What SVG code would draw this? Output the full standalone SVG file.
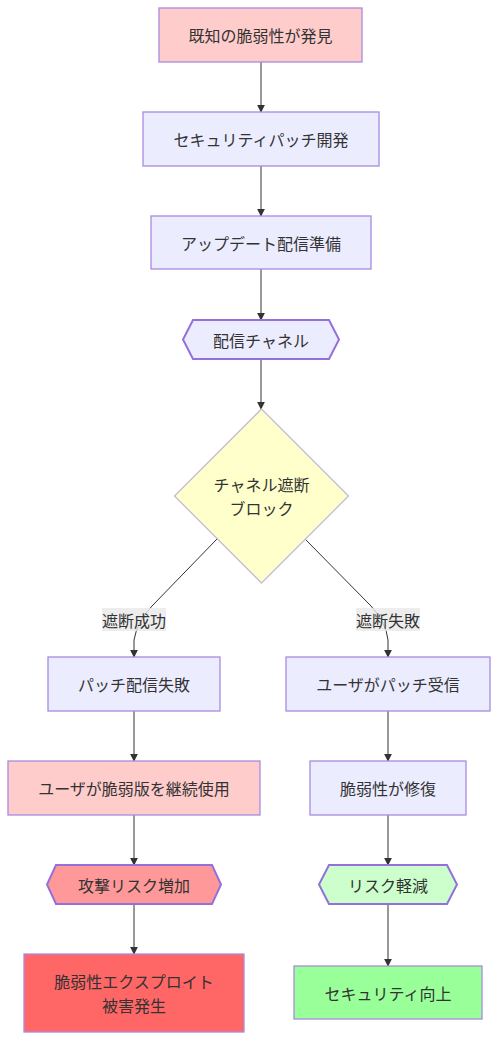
<svg xmlns="http://www.w3.org/2000/svg" width="498" height="1040" viewBox="0 0 498 1040">
<style>
text{font-family:"Noto Sans CJK JP","Noto Sans",sans-serif;font-size:16px;fill:#333;text-anchor:middle;dominant-baseline:central}
.n{stroke:#a98be0;stroke-width:1.3}
.h{stroke:#9370DB;stroke-width:2}
.e{fill:none;stroke:#333;stroke-width:1}
.lb{fill:#e8e8e8;opacity:0.8}
</style>
<defs>
<marker id="arr" viewBox="0 0 10 10" refX="9" refY="5" markerWidth="8" markerHeight="8" markerUnits="userSpaceOnUse" orient="auto">
<path d="M0,0 L10,5 L0,10 z" fill="#333"/>
</marker>
</defs>
<rect width="498" height="1040" fill="#fff"/>
<g id="connectors">
<path class="e" marker-end="url(#arr)" d="M261,62 L261,112"/>
<path class="e" marker-end="url(#arr)" d="M261,166 L261,216"/>
<path class="e" marker-end="url(#arr)" d="M261,269 L261,320"/>
<path class="e" marker-end="url(#arr)" d="M261,359 L261,409"/>
<path class="e" marker-end="url(#arr)" d="M217,539 L152,606 Q137,622 134,640 L134,657"/>
<path class="e" marker-end="url(#arr)" d="M305,539 L371,606 Q386,622 388,640 L388,657"/>
<path class="e" marker-end="url(#arr)" d="M134,711 L134,761"/>
<path class="e" marker-end="url(#arr)" d="M134,815 L134,865"/>
<path class="e" marker-end="url(#arr)" d="M134,904 L134,954"/>
<path class="e" marker-end="url(#arr)" d="M388,711 L388,761"/>
<path class="e" marker-end="url(#arr)" d="M388,815 L388,865"/>
<path class="e" marker-end="url(#arr)" d="M388,904 L388,966"/>
<g id="label-success"><rect class="lb" x="102" y="608" width="64" height="23"/><text x="134" y="619.5">遮断成功</text></g>
<g id="label-fail"><rect class="lb" x="356" y="608" width="64" height="23"/><text x="388" y="619.5">遮断失敗</text></g>
</g>
<g id="n1"><rect class="n" x="159" y="8" width="203" height="54" fill="#ffcccc"/><text x="260.5" y="35">既知の脆弱性が発見</text></g>
<g id="n2"><rect class="n" x="143" y="112" width="236" height="54" fill="#ececff"/><text x="261" y="139">セキュリティパッチ開発</text></g>
<g id="n3"><rect class="n" x="151" y="216" width="220" height="53" fill="#ececff"/><text x="261" y="242.5">アップデート配信準備</text></g>
<g id="n4"><polygon class="h" points="193,320 329,320 339,339.5 329,359 193,359 183,339.5" fill="#ececff"/><text x="261" y="339.5">配信チャネル</text></g>
<g id="n5"><polygon points="261.5,409 348.5,496 261.5,583 174.5,496" fill="#ffffcc" stroke="#c4bcd8" stroke-width="1.3"/><text x="261.5" y="484">チャネル遮断</text><text x="261.5" y="508">ブロック</text></g>
<g id="n6"><rect class="n" x="48" y="657" width="172" height="54" fill="#ececff"/><text x="134" y="684">パッチ配信失敗</text></g>
<g id="n7"><rect class="n" x="286" y="657" width="204" height="54" fill="#ececff"/><text x="388" y="684">ユーザがパッチ受信</text></g>
<g id="n8"><rect class="n" x="8" y="761" width="252" height="54" fill="#ffcccc"/><text x="134" y="788">ユーザが脆弱版を継続使用</text></g>
<g id="n9"><rect class="n" x="310" y="761" width="156" height="54" fill="#ececff"/><text x="388" y="788">脆弱性が修復</text></g>
<g id="n10"><polygon class="h" points="56,865 212,865 221,884.5 212,904 56,904 47,884.5" fill="#ff9999"/><text x="134" y="884.5">攻撃リスク増加</text></g>
<g id="n11"><polygon class="h" points="329,865 447,865 457,884.5 447,904 329,904 319,884.5" fill="#ccffcc"/><text x="388" y="884.5">リスク軽減</text></g>
<g id="n12"><rect class="n" x="24" y="954" width="220" height="78" fill="#ff6666"/><text x="134" y="981">脆弱性エクスプロイト</text><text x="134" y="1005">被害発生</text></g>
<g id="n13"><rect class="n" x="294" y="966" width="188" height="53" fill="#99ff99"/><text x="388" y="992.5">セキュリティ向上</text></g>
</svg>
